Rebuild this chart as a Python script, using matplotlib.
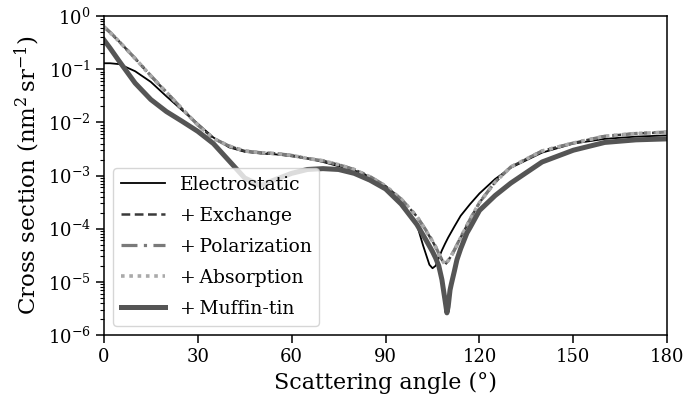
import numpy as np
import matplotlib
matplotlib.use("Agg")
import matplotlib.pyplot as plt

# ==========================================
# Data
# ==========================================
angle_es = [0, 2, 5, 10, 15, 20, 25, 30, 35, 40, 45, 50, 55, 60, 65, 70, 75, 80, 85, 90,
            95, 100, 102, 104, 105, 106, 107, 108, 109, 110, 112, 114, 117, 120, 125, 130,
            140, 150, 160, 170, 180]
electrostatic = [0.13, 0.13, 0.125, 0.092, 0.058, 0.031, 0.017, 0.0095, 0.0052, 0.0034,
                 0.0028, 0.0026, 0.0025, 0.0023, 0.0021, 0.0018, 0.0015, 0.00125, 0.00095,
                 0.00063, 0.00033, 0.00012, 4.8e-5, 2.1e-5, 1.8e-5, 2.0e-5, 2.8e-5, 3.9e-5,
                 5.2e-5, 6.8e-5, 1.1e-4, 1.75e-4, 2.9e-4, 4.6e-4, 8.6e-4, 1.4e-3, 2.7e-3,
                 4.0e-3, 4.9e-3, 5.4e-3, 5.7e-3]

angle_x = [0, 2, 5, 10, 15, 20, 25, 30, 35, 40, 45, 50, 55, 60, 65, 70, 75, 80, 85, 90,
           95, 100, 103, 105, 106, 107, 108, 109, 110, 111, 112, 114, 117, 120, 125, 130,
           140, 150, 160, 170, 180]
exchange = [0.62, 0.49, 0.33, 0.16, 0.075, 0.037, 0.018, 0.009, 0.0050, 0.0036, 0.0029,
            0.0027, 0.0026, 0.0024, 0.0021, 0.0019, 0.0016, 0.0013, 0.00095, 0.00063,
            0.00036, 0.00017, 9e-5, 5.8e-5, 4.5e-5, 3.3e-5, 2.6e-5, 2.1e-5, 2.5e-5, 3.1e-5,
            3.9e-5, 6.8e-5, 1.5e-4, 3.1e-4, 7.5e-4, 1.45e-3, 2.9e-3, 4.1e-3, 5.5e-3, 6.2e-3,
            6.5e-3]
polarization = [0.64, 0.50, 0.33, 0.16, 0.076, 0.037, 0.018, 0.009, 0.0050, 0.0036, 0.0029,
                0.0027, 0.0026, 0.0024, 0.0021, 0.0019, 0.0016, 0.0013, 0.00096, 0.00064,
                0.00036, 0.00017, 9.2e-5, 5.9e-5, 4.6e-5, 3.4e-5, 2.6e-5, 2.2e-5, 2.5e-5,
                3.1e-5, 4.0e-5, 6.9e-5, 1.5e-4, 3.1e-4, 7.6e-4, 1.45e-3, 2.9e-3, 4.1e-3,
                5.5e-3, 6.2e-3, 6.6e-3]
absorption = [0.63, 0.49, 0.33, 0.16, 0.075, 0.037, 0.018, 0.009, 0.0050, 0.0036, 0.0029,
              0.0027, 0.0026, 0.0024, 0.0021, 0.0019, 0.0016, 0.0013, 0.00095, 0.00063,
              0.00036, 0.00017, 9e-5, 5.8e-5, 4.5e-5, 3.3e-5, 2.6e-5, 2.1e-5, 2.5e-5, 3.1e-5,
              3.9e-5, 6.8e-5, 1.5e-4, 3.1e-4, 7.5e-4, 1.45e-3, 2.9e-3, 4.1e-3, 5.5e-3, 6.2e-3,
              6.5e-3]

angle_mt = [0, 2, 5, 10, 15, 20, 25, 30, 35, 40, 45, 50, 55, 60, 65, 70, 75, 80, 85, 90,
            95, 100, 103, 105, 106, 107, 108, 108.5, 109, 109.6, 110, 110.6, 111, 112, 112.8,
            114, 116, 117, 120, 125, 130, 140, 150, 160, 170, 180]
muffin_tin = [0.36, 0.25, 0.14, 0.055, 0.027, 0.016, 0.0105, 0.0068, 0.0040, 0.0019, 0.0009,
              0.00065, 0.00085, 0.0011, 0.0013, 0.00135, 0.0013, 0.0011, 0.00082, 0.00056,
              0.00029, 0.00012, 6e-5, 3.7e-5, 2.8e-5, 2.0e-5, 1.1e-5, 7e-6, 4.5e-6, 2.6e-6,
              3.4e-6, 7e-6, 9e-6, 1.6e-5, 2.6e-5, 4.2e-5, 8.3e-5, 1.05e-4, 2.2e-4, 4.2e-4,
              7.2e-4, 1.8e-3, 3.0e-3, 4.2e-3, 4.7e-3, 4.9e-3]

labels = ["Electrostatic", "+\u2009Exchange", "+\u2009Polarization", "+\u2009Absorption",
          "+\u2009Muffin-tin"]

# ==========================================
# Style
# ==========================================
plt.rcParams["font.family"] = ["DejaVu Serif"]
plt.rcParams["mathtext.fontset"] = "dejavuserif"
plt.rcParams["font.size"] = 13

fig = plt.figure(figsize=(6.83, 4.15), dpi=100)
ax = fig.add_axes([0.152, 0.193, 0.825, 0.768])

ax.plot(angle_es, electrostatic, color="black", lw=1.3, label=labels[0])
ax.plot(angle_x, exchange, color="#3a3a3a", lw=1.8, ls=(0, (3.5, 1.8)), label=labels[1])
ax.plot(angle_x, polarization, color="#7a7a7a", lw=2.3, ls=(0, (5, 2, 1, 2)), label=labels[2])
ax.plot(angle_x, absorption, color="#aaaaaa", lw=2.6, ls=(0, (1, 1.3)), label=labels[3])
ax.plot(angle_mt, muffin_tin, color="#555555", lw=3.6, label=labels[4])

ax.set_yscale("log")
ax.set_xlim(0, 180)
ax.set_ylim(1e-6, 1)
ax.set_xticks([0, 30, 60, 90, 120, 150, 180])
ax.tick_params(axis="both", which="major", length=6, width=1.1)
ax.tick_params(axis="y", which="minor", length=3, width=0.8)
for s in ax.spines.values():
    s.set_linewidth(1.1)

ax.set_xlabel("Scattering angle (°)", fontsize=16)
ax.set_ylabel("Cross section (nm$^2\\,$sr$^{-1}$)", fontsize=16.5)

leg = ax.legend(loc="lower left", fontsize=13.5, framealpha=0.8, fancybox=True,
                edgecolor="#cccccc", labelspacing=0.7, handlelength=2.35,
                handletextpad=0.8)

fig.savefig("out.png", dpi=100)
